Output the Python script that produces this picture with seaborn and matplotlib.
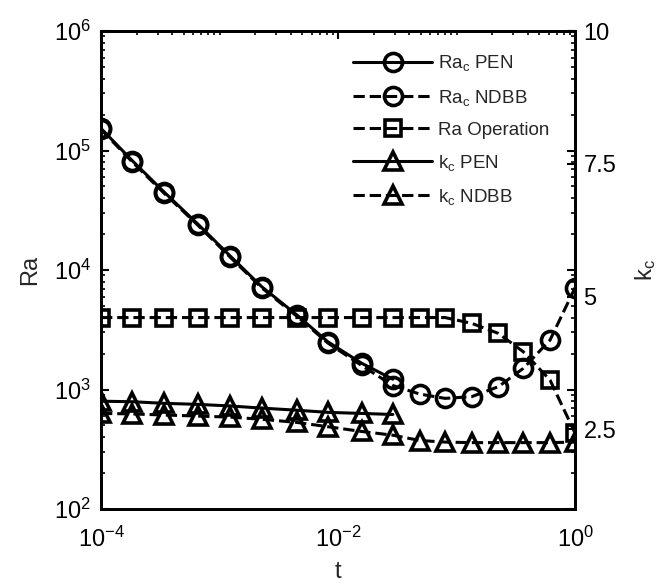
import numpy as np
import matplotlib
matplotlib.use('Agg')
import matplotlib.pyplot as plt
import seaborn as sns
from matplotlib.ticker import LogLocator, FixedLocator, NullFormatter

# ---- data ----
t = [1e-4, 1.84e-4, 3.4e-4, 6.6e-4, 1.23e-3, 2.27e-3, 4.5e-3, 8.2e-3,
     1.58e-2, 2.9e-2, 4.9e-2, 8.0e-2, 0.134, 0.225, 0.366, 0.615, 1.0]
ra_c_pen = [1.53e5, 8.2e4, 4.5e4, 2.41e4, 1.31e4, 7.25e3, 4.2e3, 2.51e3, 1.66e3, 1.22e3]
ra_c_ndbb = [1.50e5, 8.0e4, 4.4e4, 2.36e4, 1.28e4, 7.1e3, 4.1e3, 2.45e3, 1.59e3, 1.08e3,
             916, 843, 871, 1055, 1503, 2594, 7100]
ra_operation = [4000, 4000, 4000, 4000, 4000, 4000, 4000, 4000, 4000, 4000, 4000, 4000,
                3580, 2950, 2070, 1200, 432]
k_c_pen = [3.03, 3.02, 2.99, 2.97, 2.94, 2.90, 2.86, 2.82, 2.80, 2.78]
k_c_ndbb = [2.80, 2.79, 2.77, 2.75, 2.73, 2.69, 2.63, 2.55, 2.46, 2.39,
            2.29, 2.26, 2.25, 2.25, 2.25, 2.25, 2.26]
labels = [r'Ra$_c$ PEN', r'Ra$_c$ NDBB', 'Ra Operation', r'k$_c$ PEN', r'k$_c$ NDBB']
x_ticks = [1e-4, 1e-2, 1.0]
k_ticks = [2.5, 5, 7.5, 10]
k_tick_labels = ['2.5', '5', '7.5', '10']

sns.set_theme(style='white')
plt.rcParams['font.family'] = ['Liberation Sans', 'DejaVu Sans']
plt.rcParams['mathtext.default'] = 'regular'
plt.rcParams['axes.linewidth'] = 2
plt.rcParams['axes.edgecolor'] = 'black'

fig = plt.figure(figsize=(6.59, 5.84), dpi=100)
ax = fig.add_axes([0.1533, 0.1284, 0.7193, 0.8185])
ax.set_xscale('log')
ax.set_yscale('log')
ax2 = ax.twinx()

common = dict(color='black', linewidth=2.2, markerfacecolor='none',
              markeredgecolor='black', markeredgewidth=2.6)
n_pen = len(ra_c_pen)

sns.lineplot(x=t[:n_pen], y=ra_c_pen, ax=ax, marker='o', markersize=13,
             linestyle='-', **common)
h1 = ax.lines[-1]
sns.lineplot(x=t, y=ra_c_ndbb, ax=ax, marker='o', markersize=13,
             linestyle='--', **common)
h2 = ax.lines[-1]
sns.lineplot(x=t, y=ra_operation, ax=ax, marker='s', markersize=11,
             linestyle='--', **common)
h3 = ax.lines[-1]
sns.lineplot(x=t[:n_pen], y=k_c_pen, ax=ax2, marker='^', markersize=13,
             linestyle='-', **common)
h4 = ax2.lines[-1]
sns.lineplot(x=t, y=k_c_ndbb, ax=ax2, marker='^', markersize=13,
             linestyle='--', **common)
h5 = ax2.lines[-1]

for a in (ax, ax2):
    lg = a.get_legend()
    if lg is not None:
        lg.remove()

ax.set_xlim(1e-4, 1)
ax.set_ylim(1e2, 1e6)
ax2.set_ylim(1, 10)

ax.xaxis.set_major_locator(FixedLocator(x_ticks))
ax.xaxis.set_minor_locator(LogLocator(base=10, subs=np.arange(1, 10), numticks=20))
ax.xaxis.set_minor_formatter(NullFormatter())
ax.yaxis.set_major_locator(LogLocator(base=10, numticks=10))
ax.yaxis.set_minor_locator(LogLocator(base=10, subs=np.arange(2, 10), numticks=10))
ax.yaxis.set_minor_formatter(NullFormatter())
ax.tick_params(which='both', direction='in', top=True, right=True,
               labelsize=17, colors='black')
ax.tick_params(which='major', length=6, width=1.5)
ax.tick_params(which='minor', length=3, width=1.2)
ax.tick_params(axis='x', pad=13)
ax.tick_params(axis='y', pad=7)

ax2.set_yticks(k_ticks)
ax2.set_yticklabels(k_tick_labels)
ax2.tick_params(axis='y', direction='in', labelsize=17, length=6, width=1.5,
                colors='black', pad=6)

ax.set_xlabel('t', fontsize=17, labelpad=6)
ax.set_ylabel('Ra', fontsize=17, labelpad=9)
ax2.set_ylabel(r'k$_c$', fontsize=17, rotation=90, labelpad=12)

for a in (ax, ax2):
    for s in a.spines.values():
        s.set_linewidth(2)
        s.set_color('black')
ax.grid(False)
ax2.grid(False)

ax2.legend([h1, h2, h3, h4, h5], labels, loc='upper left',
           bbox_to_anchor=(0.532, 0.953), frameon=False, fontsize=13.5,
           handlelength=4.2, handletextpad=0.3, labelspacing=0.75,
           borderpad=0, borderaxespad=0)

fig.savefig('out.png', dpi=100, facecolor='white')
